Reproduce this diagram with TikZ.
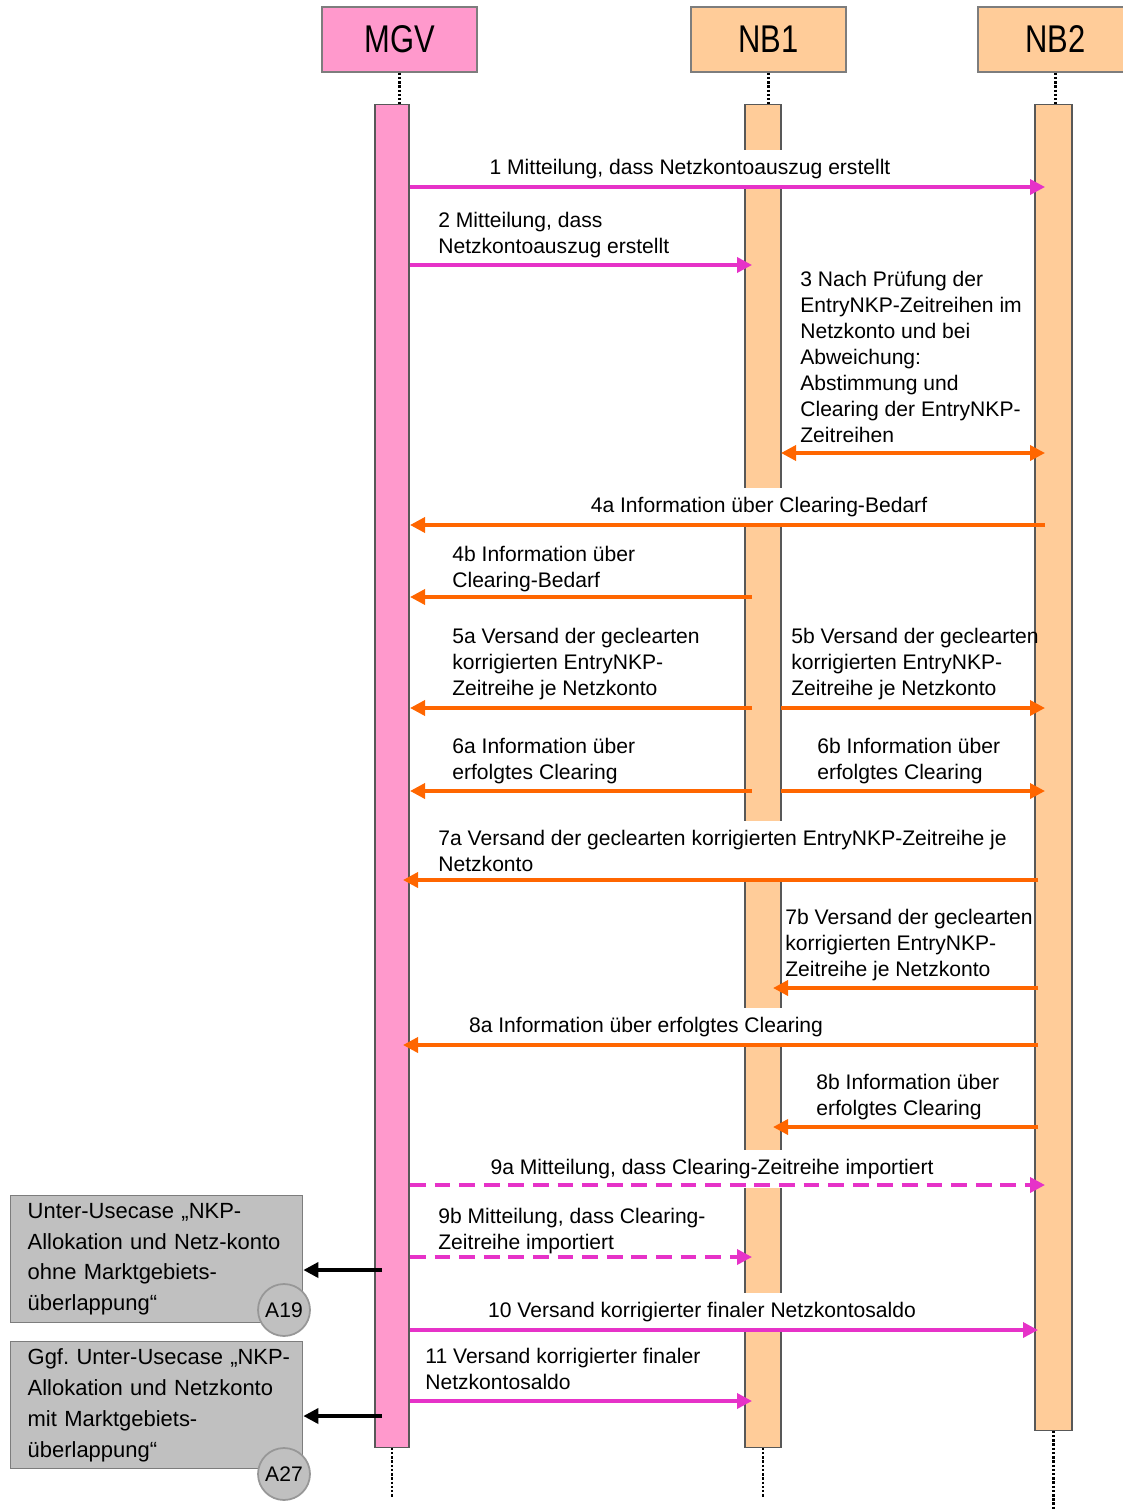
\documentclass[tikz,border=0pt]{standalone}
\usepackage{fontspec}
\setmainfont{Liberation Sans}
\newfontfamily\headfont[FakeStretch=0.8]{Liberation Sans}
\usetikzlibrary{arrows.meta}
\definecolor{mgvpink}{RGB}{255,153,204}
\definecolor{nbtan}{RGB}{255,204,153}
\definecolor{msgmag}{RGB}{230,50,200}
\definecolor{msgorange}{RGB}{255,102,0}
\definecolor{boxgray}{RGB}{192,192,192}
\definecolor{edgegray}{RGB}{125,125,125}

\begin{document}
\begin{tikzpicture}[x=0.02cm, y=-0.02cm,
    head/.style={draw=edgegray, line width=0.8pt, minimum width=3.1cm, minimum height=1.3cm,
      font=\headfont\fontsize{22}{26}\selectfont},
    bar/.style={draw=edgegray!70!black, line width=0.6pt, inner sep=0pt, anchor=north},
    life/.style={densely dotted, line width=1.4pt},
    lbl/.style={font=\fontsize{12}{14.8}\selectfont, inner sep=0pt, align=left, anchor=north west},
    cut/.style={font=\fontsize{12}{14.8}\selectfont, fill=white, inner xsep=2pt, inner ysep=0.18cm, align=left},
    msg/.style={line width=2pt, -{Triangle[length=0.3cm, width=0.3cm]}},
    ucbox/.style={draw=edgegray, fill=boxgray, line width=0.8pt, anchor=north west,
      minimum width=5.84cm, minimum height=2.54cm, inner xsep=0.34cm, text width=5.16cm,
      align=left, font=\fontsize{12.5}{17.6}\selectfont},
    tag/.style={circle, draw=edgegray!80, fill=boxgray, line width=1pt, minimum size=1.04cm,
      inner sep=0pt, font=\fontsize{12}{14}\selectfont}]
  \useasboundingbox (0,0) rectangle (1122,1510);

  % participants
  \node[head, fill=mgvpink] (mgv) at (399.5,39.5) {MGV};
  \node[head, fill=nbtan] (nb1) at (768.5,39.5) {NB1};
  \node[head, fill=nbtan] (nb2) at (1055.5,39.5) {NB2};

  % activation bars
  \node[bar, fill=mgvpink, minimum width=0.68cm, minimum height=26.86cm] (mgvbar) at (392,104) {};
  \node[bar, fill=nbtan, minimum width=0.72cm, minimum height=26.86cm] (nb1bar) at (763,104) {};
  \node[bar, fill=nbtan, minimum width=0.74cm, minimum height=26.52cm] (nb2bar) at (1053.5,104) {};

  % life lines
  \draw[life] (mgv.south) -- (mgv.south |- mgvbar.north);
  \draw[life] (nb1.south) -- (nb1.south |- nb1bar.north);
  \draw[life] (nb2.south) -- (nb2.south |- nb2bar.north);
  \draw[life] (mgvbar.south) -- ++(0,50);
  \draw[life] (nb1bar.south) -- ++(0,50);
  \draw[life] (nb2bar.south) -- ++(0,80);

  % message ends
  \coordinate (mR) at (410,0);
  \coordinate (mIn) at (403,0);
  \coordinate (mOut) at (382,0);
  \coordinate (aL) at (752,0);
  \coordinate (aR) at (781,0);
  \coordinate (aIn) at (773,0);
  \coordinate (bL) at (1045,0);
  \coordinate (bIn) at (1038,0);

  % labels
  \node[cut] (t1) at (690,169) {1 Mitteilung, dass Netzkontoauszug  erstellt};
  \node[lbl] (t2) at (438,212) {2 Mitteilung, dass\\Netzkontoauszug  erstellt};
  \node[lbl] (t3) at (800,271) {3 Nach Prüfung der\\EntryNKP-Zeitreihen im\\Netzkonto und bei\\Abweichung:\\Abstimmung und\\Clearing der EntryNKP-\\Zeitreihen};
  \node[cut] (t4a) at (759,507) {4a Information  über Clearing-Bedarf};
  \node[lbl] (t4b) at (452,546) {4b Information  über\\Clearing-Bedarf};
  \node[lbl] (t5a) at (452,628) {5a Versand der geclearten\\korrigierten  EntryNKP-\\Zeitreihe je Netzkonto};
  \node[lbl] (t5b) at (791,628) {5b Versand der geclearten\\korrigierten  EntryNKP-\\Zeitreihe je Netzkonto};
  \node[lbl] (t6a) at (452,738) {6a Information  über\\erfolgtes  Clearing};
  \node[lbl] (t6b) at (817,738) {6b Information  über\\erfolgtes  Clearing};
  \node[cut, anchor=north west] (t7a) at (434.5,821) {7a Versand der geclearten  korrigierten  EntryNKP-Zeitreihe je\\Netzkonto};
  \node[lbl] (t7b) at (785,909) {7b Versand der geclearten\\korrigierten  EntryNKP-\\Zeitreihe je Netzkonto};
  \node[cut] (t8a) at (646,1027) {8a Information  über erfolgtes  Clearing};
  \node[lbl] (t8b) at (816,1074) {8b Information  über\\erfolgtes  Clearing};
  \node[cut] (t9a) at (712,1169) {9a Mitteilung, dass Clearing-Zeitreihe  importiert};
  \node[lbl] (t9b) at (438,1208) {9b Mitteilung, dass Clearing-\\Zeitreihe importiert};
  \node[cut] (t10) at (702,1312) {10 Versand korrigierter  finaler  Netzkontosaldo};
  \node[lbl] (t11) at (425,1348) {11 Versand korrigierter  finaler\\Netzkontosaldo};

  % messages
  \draw[msg, msgmag] (mR |- 0,187) -- (bL |- 0,187);
  \draw[msg, msgmag] (mR |- 0,265) -- (aL |- 0,265);
  \draw[msg, msgorange, {Triangle[length=0.3cm, width=0.3cm]}-{Triangle[length=0.3cm, width=0.3cm]}] (aR |- 0,453) -- (bL |- 0,453);
  \draw[msg, msgorange] (bL |- 0,525) -- (mR |- 0,525);
  \draw[msg, msgorange] (aL |- 0,597) -- (mR |- 0,597);
  \draw[msg, msgorange] (aL |- 0,708) -- (mR |- 0,708);
  \draw[msg, msgorange] (aR |- 0,708) -- (bL |- 0,708);
  \draw[msg, msgorange] (aL |- 0,791) -- (mR |- 0,791);
  \draw[msg, msgorange] (aR |- 0,791) -- (bL |- 0,791);
  \draw[msg, msgorange] (bIn |- 0,880) -- (mIn |- 0,880);
  \draw[msg, msgorange] (bIn |- 0,988) -- (aIn |- 0,988);
  \draw[msg, msgorange] (bIn |- 0,1045) -- (mIn |- 0,1045);
  \draw[msg, msgorange] (bIn |- 0,1127) -- (aIn |- 0,1127);
  \draw[msg, msgmag, dash pattern=on 9pt off 5pt] (mR |- 0,1185) -- (bL |- 0,1185);
  \draw[msg, msgmag, dash pattern=on 9pt off 5pt] (mR |- 0,1257) -- (aL |- 0,1257);
  \draw[msg, msgmag] (mR |- 0,1330) -- (bIn |- 0,1330);
  \draw[msg, msgmag] (mR |- 0,1401) -- (aL |- 0,1401);

  % sub use cases
  \node[ucbox] (a19box) at (10,1195) {Unter-Usecase „NKP-\\Allokation und Netz-konto\\ohne Marktgebiets-\\überlappung“};
  \node[tag] (a19) at (284,1310) {A19};
  \node[ucbox] (a27box) at (10,1341) {\mbox{Ggf.\ Unter-Usecase „NKP-}\\Allokation und Netzkonto\\mit Marktgebiets-\\überlappung“};
  \node[tag] (a27) at (284,1474) {A27};
  \draw[msg, black] (mOut |- 0,1270) -- (a19box.east |- 0,1270);
  \draw[msg, black] (mOut |- 0,1416) -- (a27box.east |- 0,1416);
\end{tikzpicture}
\end{document}
